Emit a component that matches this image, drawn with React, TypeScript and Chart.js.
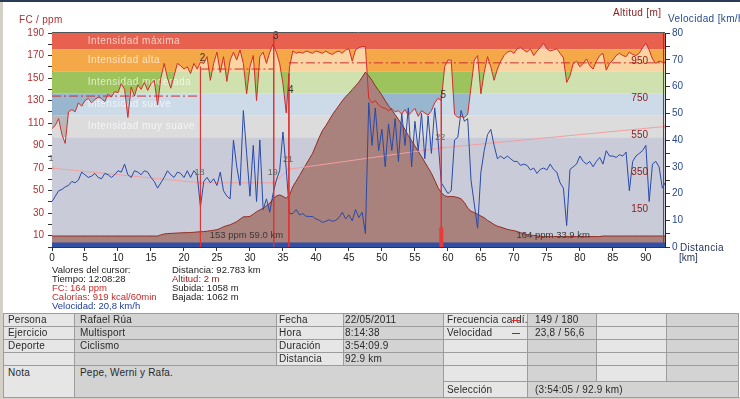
import React, { useEffect, useRef } from 'react';
import { Chart, registerables } from 'chart.js';
Chart.register(...registerables);

const FAMILY = '"Liberation Sans", Arial, sans-serif';

// distance grid (km)
const distKm = [
  0, 0.5, 1, 1.5, 2, 2.5, 3, 3.5, 4, 4.5, 5, 5.5, 6, 6.5, 7, 7.5, 8, 8.5, 9, 9.5,
  10, 10.5, 11, 11.5, 12, 12.5, 13, 13.5, 14, 14.5, 15, 15.5, 16, 16.5, 17, 17.5, 18, 18.5, 19, 19.5,
  20, 20.5, 21, 21.5, 22, 22.5, 23, 23.5, 24, 24.5, 25, 25.5, 26, 26.5, 27, 27.5, 28, 28.5, 29, 29.5,
  30, 30.5, 31, 31.5, 32, 32.5, 33, 33.5, 34, 34.5, 35, 35.5, 36, 36.5, 37, 37.5, 38, 38.5, 39, 39.5,
  40, 40.5, 41, 41.5, 42, 42.5, 43, 43.5, 44, 44.5, 45, 45.5, 46, 46.5, 47, 47.5, 48, 48.5, 49, 49.5,
  50, 50.5, 51, 51.5, 52, 52.5, 53, 53.5, 54, 54.5, 55, 55.5, 56, 56.5, 57, 57.5, 58, 58.5, 59, 59.5,
  60, 60.5, 61, 61.5, 62, 62.5, 63, 63.5, 64, 64.5, 65, 65.5, 66, 66.5, 67, 67.5, 68, 68.5, 69, 69.5,
  70, 70.5, 71, 71.5, 72, 72.5, 73, 73.5, 74, 74.5, 75, 75.5, 76, 76.5, 77, 77.5, 78, 78.5, 79, 79.5,
  80, 80.5, 81, 81.5, 82, 82.5, 83, 83.5, 84, 84.5, 85, 85.5, 86, 86.5, 87, 87.5, 88, 88.5, 89, 89.5,
  90, 90.5, 91, 91.5, 92, 92.5, 92.9,
];

// heart rate (ppm)
const hrBpm = [
  105, 108, 114, 100, 92, 120, 122, 120, 128, 125, 130, 132, 128, 131, 133, 132, 129, 136, 133, 138,
  137, 145, 140, 115, 142, 134, 144, 140, 146, 139, 145, 148, 126, 150, 163, 150, 141, 152, 163, 161,
  158, 160, 154, 163, 158, 164, 163, 169, 148, 163, 173, 155, 169, 147, 166, 173, 166, 175, 163, 136,
  160, 170, 130, 169, 173, 163, 173, 180, 173, 163, 145, 119, 160, 174, 172, 173, 172, 174, 173, 172,
  174, 173, 172, 174, 172, 171, 173, 174, 172, 175, 176, 165, 175, 177, 178, 178, 132, 128, 130, 126,
  124, 123, 121, 123, 120, 121, 118, 122, 117, 120, 123, 116, 121, 119, 117, 121, 128, 132, 130, 160,
  166, 166, 118, 115, 116, 115, 118, 142, 166, 170, 136, 155, 169, 160, 148, 158, 165, 170, 173, 174,
  172, 176, 177, 175, 173, 176, 170, 174, 177, 181, 176, 174, 175, 176, 172, 168, 146, 152, 163, 165,
  160, 163, 167, 161, 158, 165, 170, 172, 157, 163, 166, 170, 172, 170, 169, 173, 171, 170, 172, 177,
  181, 175, 167, 163, 165, 164, 164,
];

// speed (km/h)
const speedKmh = [
  17, 19, 21, 21.5, 22.5, 23, 24.5, 24, 25, 28, 27, 26, 26.5, 27.5, 26, 25.5, 27.5, 27, 26, 27,
  28.5, 28, 31, 27, 26, 28.5, 28, 27, 28.5, 28, 26, 24.5, 22, 24, 26, 28.5, 27, 26, 28, 27.5,
  26, 28.5, 26, 28.5, 27, 15, 24.5, 26, 24, 25.5, 23, 28, 21, 19, 18, 40, 30, 23, 51, 35,
  19, 38, 17, 40, 14, 18, 13, 20, 25, 28.5, 43, 29, 12.5, 12.5, 14, 12, 12.5, 11.5, 11.4, 11.4,
  10.5, 10, 9.2, 9.6, 10.2, 9.6, 10, 11, 13, 10.5, 12, 9.8, 14, 11, 13, 5, 54, 38, 52, 36,
  44, 30, 46, 36, 48, 32, 50, 38, 52, 30, 47, 36, 50, 33, 49, 35, 52, 40, 24, 22,
  20, 21, 40, 41, 51, 47, 48, 25, 16, 7, 28, 36, 42, 44, 38, 33, 34, 33, 34, 33,
  32, 32, 30.5, 31, 30.5, 28.8, 29.5, 27.5, 29, 29.5, 28.8, 31, 29, 28, 24, 22, 8, 29, 30, 31,
  34, 32, 31, 32, 30, 32, 33.5, 31, 36, 34, 34, 33.5, 34.5, 34, 35.5, 21, 32, 34, 35, 36,
  38, 17, 31, 32, 30, 22, 24,
];

// altitude (m)
const altitudeM = [
  4, 4, 4, 4, 4, 4, 4, 4, 4, 4, 4, 4, 4, 4, 4, 4, 4, 4, 4, 4,
  4, 4, 4, 4, 4, 4, 4, 4, 4, 4, 4, 4, 4, 10, 15, 17, 18, 19, 20, 21,
  22, 22, 23, 24, 26, 27, 28, 30, 33, 35, 38, 45, 54, 60, 65, 73, 82, 95, 108, 108,
  110, 122, 135, 145, 154, 168, 181, 205, 220, 226, 218, 208, 226, 271, 300, 330, 361, 391, 421, 451,
  494, 537, 575, 600, 630, 660, 685, 710, 735, 757, 775, 795, 815, 835, 862, 890, 870, 845, 815, 790,
  765, 735, 708, 685, 660, 635, 608, 580, 547, 518, 490, 462, 433, 403, 373, 343, 305, 265, 238, 222,
  216, 218, 216, 212, 205, 185, 155, 138, 130, 122, 112, 103, 88, 78, 66, 57, 52, 46, 40, 36,
  33, 28, 22, 18, 12, 9, 7, 5, 3, 1, 1, 1, 1, 1, 1, 1, 1, 1, 1, 1,
  1, 1, 1, 1, 1, 1, 1, 4, 4, 4, 4, 4, 4, 4, 4, 4, 4, 4, 4, 4,
  4, 4, 4, 4, 4, 4, 4,
];

// heart-rate zones
const zoneLo = [175.5, 156, 136.5, 117, 97.5, 0];
const zoneHi = [190, 175.5, 156, 136.5, 117, 97.5];
const zoneColors = ['#E8604E', '#F5A847', '#9DC35C', '#98B6CE', '#B9B9B9', '#C9CBD8'];
const zoneNames = ['Intensidad máxima', 'Intensidad alta', 'Intensidad moderada', 'Intensidad suave', 'Intensidad muy suave', ''];
const zoneLabelKm = 5.4;

// laps
const lapKm = [22.5, 33.6, 35.9, 59.0];
const lapTopHr = [160, 190, 154, 135];
const lapNames = ['2', '3', '4', '5'];
const lapNameHr = [168, 187, 139, 135];
const lapAvgStart = [0, 22.5, 35.9];
const lapAvgEnd = [22.5, 33.6, 92.9];
const lapAvgHr = [134, 158, 163.5];
const lapSummary = ['153 ppm 59.0 km', '164 ppm 33.9 km'];
const lapSummaryKm = [23.9, 70.4];

// trend line
const trendKm = [0, 22.5, 33.6, 35.9, 59.0, 92.9];
const trendVal = [70, 57, 57, 69, 88, 107];
const trendNames = ['1', '18', '19', '21', '22', ''];

const altTicks = [150, 350, 550, 750, 950];

const cursorLeft = [
  ['Valores del cursor:', '#222'],
  ['Tiempo: 12:08:28', '#222'],
  ['FC: 164 ppm', '#C82828'],
  ['Calorías: 919 kcal/60min', '#C82828'],
  ['Velocidad: 20,8 km/h', '#1E3C9C'],
];
const cursorRight = [
  ['Distancia: 92.783 km', '#222'],
  ['Altitud: 2 m', '#9A1414'],
  ['Subida: 1058 m', '#222'],
  ['Bajada: 1062 m', '#222'],
];

const tableRows = [
  ['Persona', 'Rafael Rúa', 'Fecha', '22/05/2011', 'Frecuencia cardí.', '149 / 180', '', ''],
  ['Ejercicio', 'Multisport', 'Hora', '8:14:38', 'Velocidad', '23,8 / 56,6', '', ''],
  ['Deporte', 'Ciclismo', 'Duración', '3:54:09.9', '', '', '', ''],
  ['', '', 'Distancia', '92.9 km', '', '', '', ''],
];
const noteText = 'Pepe, Werni y Rafa.';
const selectionText = '(3:54:05 / 92.9 km)';

const COLX = [3, 74, 276, 343, 443, 527, 596, 666, 738];
const ROWY = [313, 326, 339, 352, 365, 381, 397];
const COLPAD = [4, 5, 2, 1, 3, 7, 3, 3];

const pts = (vals: number[]) => distKm.map((x, i) => ({ x, y: vals[i] }));

const decorPlugin = {
  id: 'decor',
  beforeDatasetsDraw(chart: any) {
    const { ctx, chartArea: a, scales } = chart;
    const y = scales.y;
    const x = scales.x;
    ctx.save();
    zoneLo.forEach((lo, i) => {
      const top = y.getPixelForValue(zoneHi[i]);
      const bot = y.getPixelForValue(lo);
      ctx.fillStyle = zoneColors[i];
      ctx.fillRect(a.left, top, a.right - a.left, bot - top);
    });
    ctx.font = `10px ${FAMILY}`;
    try { ctx.letterSpacing = '0.5px'; } catch (e) {}
    ctx.fillStyle = 'rgba(255,255,255,0.7)';
    ctx.textBaseline = 'middle';
    ctx.textAlign = 'left';
    zoneNames.forEach((t, i) => {
      if (!t) return;
      ctx.fillText(t, x.getPixelForValue(zoneLabelKm), y.getPixelForValue((zoneLo[i] + zoneHi[i]) / 2));
    });
    ctx.restore();
  },
  afterDatasetsDraw(chart: any) {
    const { ctx, chartArea: a, scales } = chart;
    const y = scales.y;
    const x = scales.x;
    ctx.save();
    ctx.textBaseline = 'middle';
    ctx.textAlign = 'center';
    ctx.font = `10px ${FAMILY}`;
    ctx.fillStyle = '#333';
    lapNames.forEach((t, i) => {
      ctx.fillText(t, x.getPixelForValue(lapKm[i]) + 2, y.getPixelForValue(lapNameHr[i]));
    });
    ctx.font = `9px ${FAMILY}`;
    ctx.fillStyle = '#666';
    trendNames.forEach((t, i) => {
      if (!t) return;
      ctx.fillText(t, x.getPixelForValue(trendKm[i]) - 1, y.getPixelForValue(trendVal[i]) - 10);
    });
    ctx.font = `9.5px ${FAMILY}`;
    ctx.fillStyle = '#3A3A3A';
    ctx.textAlign = 'left';
    lapSummary.forEach((t, i) => {
      ctx.fillText(t, x.getPixelForValue(lapSummaryKm[i]), y.getPixelForValue(10));
    });
    // frame
    ctx.strokeStyle = '#555';
    ctx.lineWidth = 1;
    ctx.beginPath();
    ctx.moveTo(a.left, a.top - 0.5);
    ctx.lineTo(a.right, a.top - 0.5);
    ctx.stroke();
    ctx.strokeStyle = '#A0302A';
    ctx.beginPath();
    ctx.moveTo(a.right - 1.5, a.top);
    ctx.lineTo(a.right - 1.5, a.bottom);
    ctx.stroke();
    ctx.restore();
  },
};

export default function App() {
  const ref = useRef<HTMLCanvasElement>(null);
  useEffect(() => {
    const lapLineData: any[] = [];
    lapKm.forEach((k, i) => {
      lapLineData.push({ x: k, y: lapTopHr[i] }, { x: k, y: 0 }, { x: k, y: null });
    });
    const avgData: any[] = [];
    lapAvgStart.forEach((s, i) => {
      avgData.push({ x: s, y: lapAvgHr[i] }, { x: lapAvgEnd[i], y: lapAvgHr[i] }, { x: lapAvgEnd[i], y: null });
    });
    const font = { family: FAMILY, size: 10 };
    const chart = new Chart(ref.current as HTMLCanvasElement, {
      type: 'line',
      data: {
        datasets: [
          { data: pts(hrBpm), yAxisID: 'y', borderWidth: 0, pointRadius: 0, fill: { value: 97.5 }, backgroundColor: 'rgba(255,255,255,0.5)', order: 10 } as any,
          { data: pts(altitudeM), yAxisID: 'yAlt', borderColor: '#962A22', borderWidth: 1, pointRadius: 0, fill: 'start', backgroundColor: '#A9817D', order: 9 },
          { data: [{ x: 0, y: 2 }, { x: 92.9, y: 2 }], yAxisID: 'y', borderColor: '#3050A8', borderWidth: 4.5, pointRadius: 0, order: 8 },
          { data: avgData, yAxisID: 'y', borderColor: '#C83030', borderWidth: 1, borderDash: [9, 3, 2, 3], pointRadius: 0, spanGaps: false, order: 7 },
          { data: trendKm.map((k, i) => ({ x: k, y: trendVal[i] })), yAxisID: 'y', borderColor: '#F2A0A0', borderWidth: 1, pointRadius: 2, pointBackgroundColor: '#F2A0A0', pointBorderWidth: 0, order: 6 },
          { data: pts(speedKmh), yAxisID: 'yVel', borderColor: '#2A4AA8', borderWidth: 1, pointRadius: 0, order: 5 },
          { data: lapLineData, yAxisID: 'y', borderColor: '#E03434', borderWidth: 1, pointRadius: 0, spanGaps: false, order: 4 },
          { data: [{ x: 59.0, y: 0 }, { x: 59.0, y: 17.5 }], yAxisID: 'y', borderColor: '#E83A3A', borderWidth: 4, pointRadius: 0, order: 3 },
          { data: pts(hrBpm), yAxisID: 'y', borderColor: '#D22C2C', borderWidth: 1, pointRadius: 0, order: 1 },
        ],
      },
      options: {
        animation: false,
        responsive: false,
        devicePixelRatio: 1,
        events: [],
        layout: { padding: { top: 33, left: 0, right: 0, bottom: 0 } },
        plugins: { legend: { display: false }, tooltip: { enabled: false } },
        elements: { line: { tension: 0 }, point: { radius: 0 } },
        scales: {
          x: {
            type: 'linear', position: 'bottom', min: 0, max: 92.9,
            ticks: { stepSize: 5, includeBounds: false, autoSkip: false, maxRotation: 0, color: '#222', font, padding: 1 },
            grid: { drawOnChartArea: false, tickLength: 4, color: '#333' },
            border: { color: '#333' },
            afterFit: (s: any) => { s.height = 19; },
          },
          y: {
            type: 'linear', position: 'left', min: 0, max: 190,
            ticks: { stepSize: 10, includeBounds: false, autoSkip: false, color: '#B03030', font, padding: 4,
              callback: (v: any) => (Number(v) % 20 === 10 ? String(v) : '') },
            grid: { drawOnChartArea: false, tickLength: 4, color: '#333' },
            border: { color: '#333' },
            afterFit: (s: any) => { s.width = 52; },
          },
          yAlt: {
            type: 'linear', position: 'right', min: -55.4, max: 1101, weight: 0,
            afterBuildTicks: (s: any) => { s.ticks = altTicks.map((v) => ({ value: v })); },
            ticks: { mirror: true, padding: -17, color: '#8B2020', font, autoSkip: false, z: 2 },
            grid: { display: false, drawTicks: false },
            border: { display: true, color: '#222', dash: [2, 2], z: 2 },
            afterFit: (s: any) => { s.width = 0; },
          },
          yVel: {
            type: 'linear', position: 'right', min: 0, max: 80, weight: 1,
            ticks: { stepSize: 5, autoSkip: false, includeBounds: false, color: '#2A4A8A', font, padding: 2,
              callback: (v: any) => (Number(v) % 10 === 0 ? String(v) : '') },
            grid: { drawOnChartArea: false, tickLength: 5, color: '#333' },
            border: { display: false },
            afterFit: (s: any) => { s.width = 75; },
          },
        } as any,
      },
      plugins: [decorPlugin],
    } as any);
    return () => chart.destroy();
  }, []);

  const textBase: React.CSSProperties = { position: 'absolute', fontFamily: FAMILY, fontSize: 10, whiteSpace: 'nowrap' };

  const cell = (key: string, c0: number, c1: number, r0: number, r1: number, text: string, top = false) => (
    <div key={key} style={{
      position: 'absolute', left: COLX[c0], top: ROWY[r0], width: COLX[c1] - COLX[c0] + 1, height: ROWY[r1] - ROWY[r0] + 1,
      boxSizing: 'border-box', border: '1px solid #9C9C9C', background: c0 % 2 === 0 ? '#E6E6E6' : '#D3D3D3',
      paddingLeft: COLPAD[c0], lineHeight: top ? '14px' : `${ROWY[r1] - ROWY[r0] - 1}px`, fontFamily: FAMILY, fontSize: 10,
      color: '#2A2A2A', whiteSpace: 'nowrap', overflow: 'hidden', letterSpacing: '0.2px',
    }}>{text}</div>
  );

  const cells: any[] = [];
  tableRows.forEach((row, r) => row.forEach((t, c) => cells.push(cell(`r${r}c${c}`, c, c + 1, r, r + 1, t))));
  cells.push(cell('nota', 0, 1, 4, 6, 'Nota', true));
  cells.push(cell('notatxt', 1, 4, 4, 6, noteText, true));
  [4, 5, 6, 7].forEach((c) => cells.push(cell(`r4c${c}`, c, c + 1, 4, 5, '')));
  cells.push(cell('sel', 4, 5, 5, 6, 'Selección'));
  cells.push(cell('seltxt', 5, 8, 5, 6, selectionText));

  return (
    <div style={{ position: 'absolute', left: 0, top: 0, width: 740, height: 399, overflow: 'hidden', background: '#fff' }}>
      <canvas ref={ref} width={740} height={266} style={{ position: 'absolute', left: 0, top: 0, width: 740, height: 266 }} />
      <div style={{ position: 'absolute', left: 0, top: 0, width: 740, height: 2, background: '#2B3A55' }} />
      <div style={{ position: 'absolute', left: 0, top: 2, width: 3, height: 397, background: '#D4D0C8' }} />
      <div style={{ position: 'absolute', left: 0, top: 397, width: 740, height: 2, background: '#D4D0C8' }} />
      <div style={{ ...textBase, left: 19, top: 14, color: '#B03030', letterSpacing: '0.3px', lineHeight: '12px' }}>FC / ppm</div>
      <div style={{ ...textBase, left: 613, top: 7, color: '#8B2020', letterSpacing: '0.35px', lineHeight: '12px' }}>Altitud [m]</div>
      <div style={{ ...textBase, left: 668, top: 13, color: '#2A4A8A', letterSpacing: '0.35px', lineHeight: '12px' }}>Velocidad [km/h]</div>
      <div style={{ ...textBase, left: 680, top: 242, color: '#1E2E5A', letterSpacing: '0.3px', lineHeight: '12px' }}>Distancia</div>
      <div style={{ ...textBase, left: 679, top: 252, color: '#1E2E5A', lineHeight: '12px' }}>[km]</div>
      <div style={{ ...textBase, left: 52, top: 265, fontSize: 9.5, lineHeight: '9px' }}>
        {cursorLeft.map(([t, c]) => <div key={t} style={{ color: c }}>{t}</div>)}
      </div>
      <div style={{ ...textBase, left: 172, top: 265, fontSize: 9.5, lineHeight: '9px' }}>
        {cursorRight.map(([t, c]) => <div key={t} style={{ color: c }}>{t}</div>)}
      </div>
      {cells}
      <div style={{ position: 'absolute', left: 512, top: 320, width: 8, height: 1, background: '#E03030' }} />
      <div style={{ position: 'absolute', left: 512, top: 333, width: 8, height: 1, background: '#2A4AA8' }} />
    </div>
  );
}
